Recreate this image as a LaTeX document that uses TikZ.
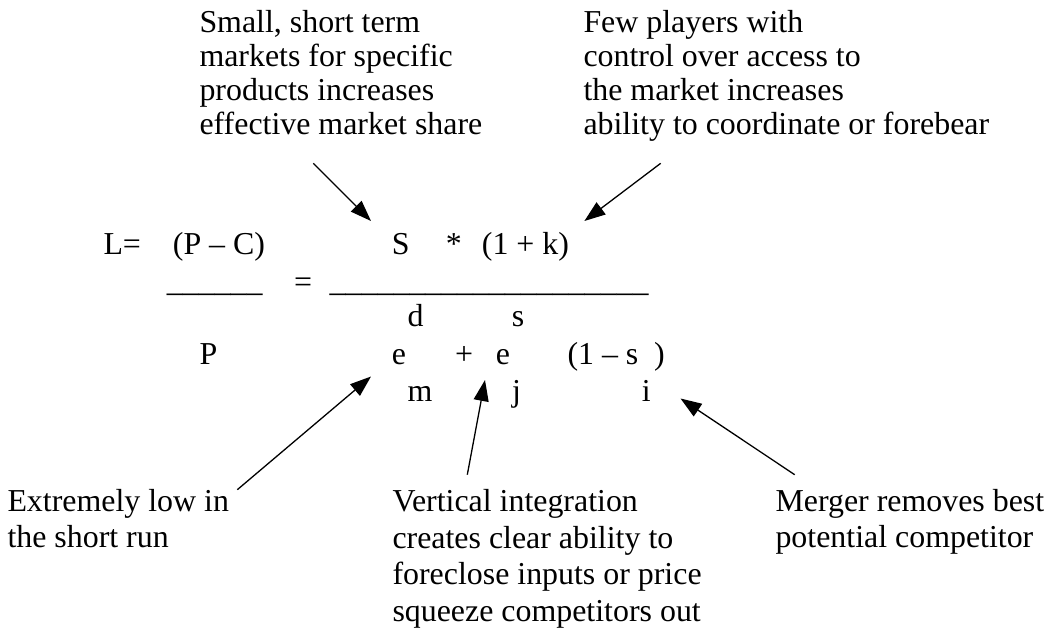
\documentclass[tikz,border=0pt]{standalone}
\usepackage{fontspec}
\setmainfont{Liberation Serif}
\usetikzlibrary{arrows.meta}

\begin{document}
\begin{tikzpicture}[
    x=1pt, y=-1pt,
    >={Triangle[length=21pt,width=15pt]},
    note/.style={
        anchor=base west,
        inner sep=0pt,
        align=left,
        font=\fontsize{31.9pt}{#1}\selectfont
    },
    note/.default=34pt,
    term/.style={
        anchor=base west,
        inner sep=0pt,
        font=\fontsize{31.9pt}{36.7pt}\selectfont
    },
    pointer/.style={->, line width=1.3pt}
]
\useasboundingbox (0,0) rectangle (1048,628);

% Notes above the formula (placed by the baseline of their last line)
\node[note] (shareNote)  at (199.3,135) {Small, short term\\markets for specific\\products increases\\effective market share};
\node[note] (accessNote) at (583.3,135) {Few players with\\control over access to\\the market increases\\ability to coordinate or forebear};

% --- Numerator row ---
\node[term] (lerner) at (103.3,254) {L=};
\node[term] (margin) at (172.7,254) {(P – C)};
\node[term] (share)  at (391.7,254) {S};
\node[term] (times)  at (445.7,254) {*};
\node[term] (coord)  at (481.7,254) {(1 + k)};

% --- Fraction bars ---
\node[term] (barL)  at (166.7,291) {\_\_\_\_\_\_};
\node[term] (equal) at (294,292)   {=};
\node[term] (barR)  at (329.3,291) {\_\_\_\_\_\_\_\_\_\_\_\_\_\_\_\_\_\_\_\_};

% --- Denominator: superscripts, main row, subscripts ---
\node[term] (supD) at (407.3,326.5) {d};
\node[term] (supS) at (511.7,326.5) {s};

\node[term] (price)  at (199.3,364) {P};
\node[term] (elastM) at (391.7,364) {e};
\node[term] (plus)   at (455,364)   {+};
\node[term] (elastJ) at (495.7,364) {e};
\node[term] (rival)  at (567.3,364) {(1 – s};
\node[term] (close)  at (654,364)   {)};

\node[term] (subM) at (407.3,401.7) {m};
\node[term] (subJ) at (512,401.7)   {j};
\node[term] (subI) at (641.7,401.7) {i};

% Notes below the formula
\node[note=36pt]   (runNote)    at (7.3,547.3)   {Extremely low in\\the short run};
\node[note=36.7pt] (vertNote)   at (392.3,621.4) {Vertical integration\\creates clear ability to\\foreclose inputs or price\\squeeze competitors out};
\node[note=36pt]   (mergerNote) at (775.3,547.3) {Merger removes best\\potential competitor};

% Pointers from notes to terms
\draw[pointer] ([shift={(114,28.3)}]shareNote.base west) -- ([shift={(-20.7,-33)}]share.base west);
\draw[pointer] ([shift={(77.4,28.3)}]accessNote.base west) -- ([shift={(15.2,-33)}]coord.base east);
\draw[pointer] ([shift={(230,-57.6)}]runNote.base west) -- ([shift={(-20.7,12.5)}]elastM.base west);
\draw[pointer] ([shift={(75,-146.7)}]vertNote.base west) -- ([shift={(-10.7,16)}]elastJ.base west);
\draw[pointer] ([shift={(19.4,-72.6)}]mergerNote.base west) -- ([shift={(38.8,-3.2)}]subI.base west);

\end{tikzpicture}
\end{document}
